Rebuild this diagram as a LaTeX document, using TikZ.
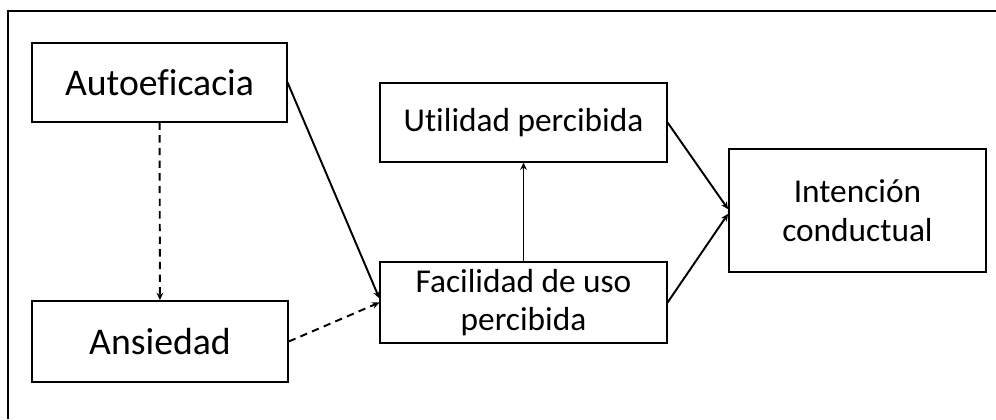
\documentclass[tikz,border=0pt]{standalone}
\usepackage{fontspec}
\setmainfont{Carlito}[Ligatures=NoCommon]
\usetikzlibrary{arrows.meta}

\tikzset{
  box/.style={draw, line width=1.1pt, inner sep=0pt, align=center,
    font=\fontsize{25}{28.5}\selectfont},
  bigbox/.style={box, font=\fontsize{28.3}{32}\selectfont},
  link/.style={line width=1.45pt, -{Stealth[length=5.5pt,width=5pt]}},
  dlink/.style={link, dash pattern=on 5.5pt off 4pt},
}

\begin{document}
\begin{tikzpicture}[x=0.75pt,y=-0.75pt]
  \useasboundingbox (0,0) rectangle (996,419);
  % frame
  \draw[line width=1.7pt] (8,419) -- (8,11) -- (996,11);

  \node[bigbox, minimum width=191pt, minimum height=59pt] (auto) at (159.5,82.5) {Autoeficacia};
  \node[bigbox, minimum width=192pt, minimum height=61pt] (ans) at (160,341.5) {Ansiedad};
  \node[box, minimum width=215pt, minimum height=59pt] (util) at (523.5,122.5) {Utilidad percibida};
  \node[box, minimum width=215pt, minimum height=61pt] (facil) at (523.5,302.5) {Facilidad de uso\\percibida};
  \node[box, minimum width=193pt, minimum height=92pt, font=\fontsize{25}{29.5}\selectfont] (int) at (857.5,210.5) {Intención\\conductual};

  \draw[dlink] (auto) -- (ans);
  \draw[link] (auto.east) -- ([yshift=3pt]facil.west);
  \draw[dlink] (ans.east) -- (facil.west);
  \draw[link] (facil) -- (util);
  \draw[link] (util.east) -- ([yshift=1pt]int.west);
  \draw[link] (facil.east) -- ([yshift=-2.5pt]int.west);
\end{tikzpicture}
\end{document}
